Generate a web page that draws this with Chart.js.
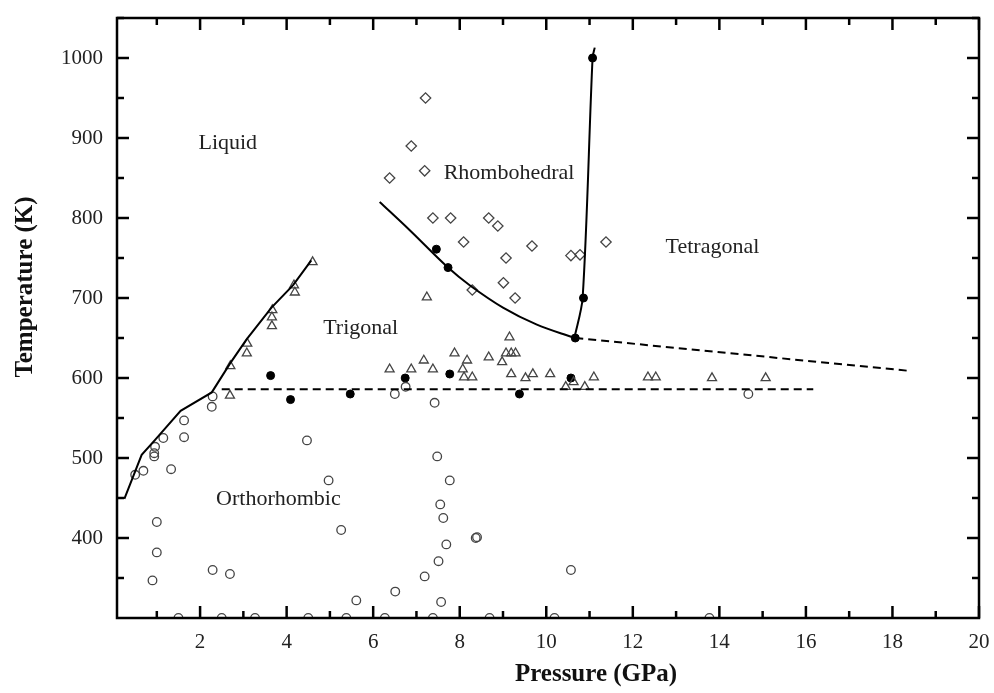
<!DOCTYPE html>
<html>
<head>
<meta charset="utf-8">
<script src="https://cdn.jsdelivr.net/npm/chart.js@4.4.0/dist/chart.umd.min.js"></script>
<style>
  html, body { margin: 0; padding: 0; background: #fff; }
  canvas { display: block; }
</style>
</head>
<body>
<canvas id="myChart" width="994" height="693"></canvas>
<script>
// axis ticks
const xTicks = [2, 4, 6, 8, 10, 12, 14, 16, 18, 20];
const yTicks = [400, 500, 600, 700, 800, 900, 1000];
const xMinor = [1, 3, 5, 7, 9, 11, 13, 15, 17, 19];
const yMinor = [350, 450, 550, 650, 750, 850, 950, 1050];

// measured points  [pressure GPa, temperature K]
const orthoPts = [
  [0.50, 479], [0.69, 484], [0.94, 502], [0.94, 506], [0.96, 514], [1.15, 525], [1.33, 486],
  [1.63, 526], [1.63, 547], [2.27, 564], [2.29, 577], [4.47, 522], [4.97, 472], [5.26, 410],
  [1.0, 420], [1.0, 382], [0.9, 347], [2.29, 360], [2.69, 355], [5.61, 322], [6.51, 333],
  [7.42, 569], [7.48, 502], [7.77, 472], [7.55, 442], [7.62, 425], [8.37, 400], [8.40, 401],
  [7.69, 392], [7.51, 371], [7.19, 352], [7.57, 320], [10.57, 360], [6.50, 580], [6.75, 589],
  [14.67, 580],
  [1.50, 300], [2.50, 300], [3.27, 300], [4.50, 300], [5.38, 300], [6.27, 300], [7.38, 300],
  [8.69, 300], [10.19, 300], [13.77, 300]
];
const trigPts = [
  [4.60, 745], [4.17, 716], [4.19, 707], [3.67, 685], [3.66, 676], [3.66, 665], [3.09, 643],
  [3.08, 631], [2.70, 615], [2.69, 578],
  [6.38, 611], [6.88, 611], [7.17, 622], [7.38, 611], [7.24, 701], [7.88, 631], [8.17, 622],
  [8.07, 611], [8.10, 601], [8.29, 601], [8.67, 626], [8.98, 620], [9.07, 631], [9.19, 631],
  [9.29, 631], [9.15, 651], [9.19, 605], [9.52, 600], [9.69, 605], [10.09, 605], [10.45, 589],
  [10.63, 595], [10.89, 589], [11.10, 601], [12.35, 601], [12.53, 601], [13.83, 600], [15.07, 600]
];
const rhombPts = [
  [7.21, 950], [6.88, 890], [6.38, 850], [7.19, 859], [7.38, 800], [7.79, 800], [8.67, 800],
  [8.88, 790], [8.09, 770], [9.67, 765], [9.07, 750], [10.57, 753], [10.78, 754], [11.38, 770],
  [9.01, 719], [9.28, 700], [8.29, 710]
];
const boundPts = [
  [3.63, 603], [4.09, 573], [5.47, 580], [6.74, 600], [7.77, 605], [9.38, 580], [10.57, 600],
  [7.46, 761], [7.73, 738], [10.67, 650], [10.86, 700], [11.07, 1000]
];

// phase boundaries
const meltLine = [
  [0.25, 449], [0.65, 504], [0.95, 522], [1.55, 559], [2.27, 582], [2.69, 618],
  [3.07, 648], [3.65, 688], [4.15, 716], [4.57, 747]
];
const rhombLine = [[6.15, 820], [6.84, 785], [7.73, 738], [8.23, 716], [9.0, 688], [9.77, 667], [10.65, 650]];
const tetraLine = [[10.65, 650], [10.84, 700], [11.07, 1000], [11.12, 1013]];
const orthoDash = [[2.5, 586], [16.17, 586]];
const tetraDash = [[10.67, 650], [18.37, 609]];

// phase names
const phaseNames = ['Liquid', 'Rhombohedral', 'Tetragonal', 'Trigonal', 'Orthorhombic'];
const phaseAt = [[2.64, 894], [9.14, 856], [13.84, 763], [5.71, 662], [3.81, 449]];

const xy = (arr) => arr.map(p => ({ x: p[0], y: p[1] }));
const SERIF = '"Liberation Serif", "Times New Roman", serif';

function lineSet(pts, dash, tension) {
  return {
    data: xy(pts), showLine: true, pointRadius: 0, borderColor: '#000', borderWidth: 2,
    borderDash: dash || [], tension: tension || 0, fill: false
  };
}
function markSet(pts, style, r, filled) {
  return {
    data: xy(pts), showLine: false, pointStyle: style, pointRadius: r,
    pointBorderWidth: filled ? 1 : 1.3,
    pointBorderColor: filled ? '#000' : '#444',
    pointBackgroundColor: filled ? '#000' : 'rgba(0,0,0,0)',
    clip: 0
  };
}

// frame with inward ticks, region names and axis titles
const framePlugin = {
  id: 'framePlugin',
  afterDraw(chart) {
    const { ctx, chartArea: a, scales: { x, y } } = chart;
    ctx.save();
    ctx.strokeStyle = '#000';
    ctx.lineWidth = 2.5;
    const tick = (x1, y1, x2, y2) => { ctx.beginPath(); ctx.moveTo(x1, y1); ctx.lineTo(x2, y2); ctx.stroke(); };
    xTicks.concat(xMinor).forEach(v => {
      const px = x.getPixelForValue(v);
      const len = xTicks.includes(v) ? 12 : 7;
      tick(px, a.bottom, px, a.bottom - len);
      tick(px, a.top, px, a.top + len);
    });
    yTicks.concat(yMinor).forEach(v => {
      const py = y.getPixelForValue(v);
      const len = yTicks.includes(v) ? 12 : 7;
      tick(a.left, py, a.left + len, py);
      tick(a.right, py, a.right - len, py);
    });
    ctx.lineWidth = 2.5;
    ctx.strokeRect(a.left, a.top, a.right - a.left, a.bottom - a.top);

    ctx.fillStyle = '#222';
    ctx.textAlign = 'center';
    ctx.textBaseline = 'middle';
    ctx.font = '22px ' + SERIF;
    phaseNames.forEach((n, i) => {
      ctx.fillText(n, x.getPixelForValue(phaseAt[i][0]), y.getPixelForValue(phaseAt[i][1]));
    });

    ctx.fillStyle = '#111';
    ctx.font = 'bold 25px ' + SERIF;
    ctx.fillText('Pressure (GPa)', 596, 675);
    ctx.translate(26, 287);
    ctx.rotate(-Math.PI / 2);
    ctx.fillText('Temperature (K)', 0, 0);
    ctx.restore();
  }
};

const ctx = document.getElementById('myChart');
new Chart(ctx, {
  type: 'scatter',
  data: {
    datasets: [
      lineSet(meltLine),
      lineSet(rhombLine, null, 0.35),
      lineSet(tetraLine, null, 0.3),
      lineSet(orthoDash, [8, 5]),
      lineSet(tetraDash, [8, 5]),
      markSet(orthoPts, 'circle', 4.3, false),
      markSet(trigPts, 'triangle', 5.2, false),
      markSet(rhombPts, 'rectRot', 5.2, false),
      markSet(boundPts, 'circle', 4, true)
    ]
  },
  options: {
    responsive: false,
    animation: false,
    events: [],
    layout: { padding: { top: 18, right: 15, left: 0, bottom: 0 } },
    plugins: { legend: { display: false }, tooltip: { enabled: false } },
    scales: {
      x: {
        type: 'linear', min: 0.08, max: 20,
        afterBuildTicks: (s) => { s.ticks = xTicks.map(v => ({ value: v })); },
        afterFit: (s) => { s.height = 75; s.paddingLeft = 0; s.paddingRight = 0; },
        grid: { display: false, drawTicks: false },
        border: { display: false },
        ticks: { padding: 12, color: '#222', font: { family: SERIF, size: 21 }, callback: (v) => String(v) }
      },
      y: {
        type: 'linear', min: 300, max: 1050,
        afterBuildTicks: (s) => { s.ticks = yTicks.map(v => ({ value: v })); },
        afterFit: (s) => { s.width = 117; s.paddingTop = 0; s.paddingBottom = 0; },
        grid: { display: false, drawTicks: false },
        border: { display: false },
        ticks: { padding: 14, color: '#222', font: { family: SERIF, size: 21 }, callback: (v) => String(v) }
      }
    }
  },
  plugins: [framePlugin]
});
</script>
</body>
</html>
